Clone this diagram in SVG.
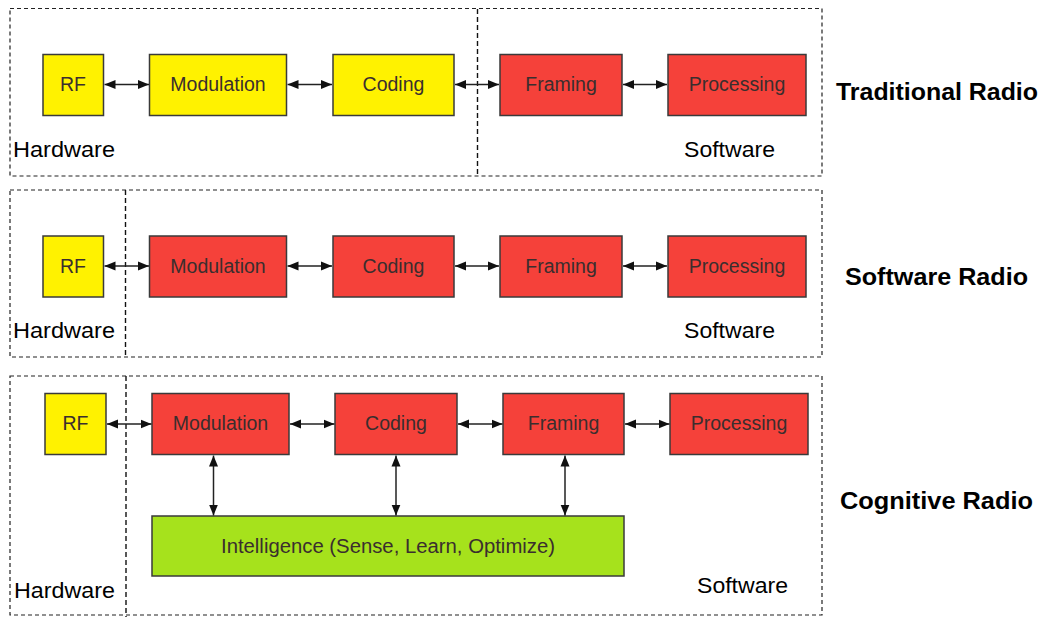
<svg xmlns="http://www.w3.org/2000/svg" width="1045" height="617" viewBox="0 0 1045 617">
<style>
.panel{fill:none;stroke:#222;stroke-width:1.2;stroke-dasharray:4 3}
.div{fill:none;stroke:#111;stroke-width:1.4;stroke-dasharray:5 3}
.box{stroke:#3a3a3a;stroke-width:1.5}
.y{fill:#FFF200}
.r{fill:#F5413A}
.g{fill:#A6E21C}
.bt{font-family:"Liberation Sans",Arial,sans-serif;font-size:19.5px;fill:#3a2e2e;text-anchor:middle}
.lab{font-family:"Liberation Sans",Arial,sans-serif;font-size:22.5px;fill:#000}
.title{font-family:"Liberation Sans",Arial,sans-serif;font-size:23px;font-weight:bold;fill:#000}
.con{stroke:#222;stroke-width:1.5;fill:none;marker-start:url(#ah);marker-end:url(#ah)}
</style>
<defs>
<marker id="ah" markerUnits="userSpaceOnUse" markerWidth="11" markerHeight="10" refX="11" refY="5" orient="auto-start-reverse">
<path d="M0,0.5 L11,5 L0,9.5 z" fill="#111"/>
</marker>
</defs>
<rect width="1045" height="617" fill="#fff"/>

<g id="panels">
<rect class="panel" x="10" y="8.5" width="812" height="167.5"/>
<line class="div" x1="477.5" y1="9" x2="477.5" y2="176"/>
<rect class="panel" x="10" y="190" width="812" height="167"/>
<line class="div" x1="125.5" y1="190" x2="125.5" y2="357"/>
<rect class="panel" x="10" y="376" width="812" height="239"/>
<line class="div" x1="126" y1="376" x2="126" y2="617"/>
</g>

<g id="labels">
<text class="lab" x="13" y="157" textLength="102" lengthAdjust="spacingAndGlyphs">Hardware</text>
<text class="lab" x="684" y="157" textLength="91" lengthAdjust="spacingAndGlyphs">Software</text>
<text class="title" x="836" y="100" textLength="202" lengthAdjust="spacingAndGlyphs">Traditional Radio</text>
<text class="lab" x="13" y="338" textLength="102" lengthAdjust="spacingAndGlyphs">Hardware</text>
<text class="lab" x="684" y="338" textLength="91" lengthAdjust="spacingAndGlyphs">Software</text>
<text class="title" x="845" y="285" textLength="183" lengthAdjust="spacingAndGlyphs">Software Radio</text>
<text class="lab" x="14" y="598" textLength="101" lengthAdjust="spacingAndGlyphs">Hardware</text>
<text class="lab" x="697" y="593" textLength="91" lengthAdjust="spacingAndGlyphs">Software</text>
<text class="title" x="840" y="509" textLength="193" lengthAdjust="spacingAndGlyphs">Cognitive Radio</text>
</g>

<g id="t-rf"><rect class="box y" x="43" y="54.5" width="60.5" height="61"/><text class="bt" x="73" y="91">RF</text></g>
<g id="t-mod"><rect class="box y" x="149.5" y="54.5" width="137" height="61"/><text class="bt" x="218" y="91">Modulation</text></g>
<g id="t-cod"><rect class="box y" x="333" y="54.5" width="121" height="61"/><text class="bt" x="393.5" y="91">Coding</text></g>
<g id="t-fra"><rect class="box r" x="500" y="54.5" width="122" height="61"/><text class="bt" x="561" y="91">Framing</text></g>
<g id="t-pro"><rect class="box r" x="668" y="54.5" width="138" height="61"/><text class="bt" x="737" y="91">Processing</text></g>

<g id="s-rf"><rect class="box y" x="43" y="236" width="60.5" height="61"/><text class="bt" x="73" y="273">RF</text></g>
<g id="s-mod"><rect class="box r" x="149.5" y="236" width="137" height="61"/><text class="bt" x="218" y="273">Modulation</text></g>
<g id="s-cod"><rect class="box r" x="333" y="236" width="121" height="61"/><text class="bt" x="393.5" y="273">Coding</text></g>
<g id="s-fra"><rect class="box r" x="500" y="236" width="122" height="61"/><text class="bt" x="561" y="273">Framing</text></g>
<g id="s-pro"><rect class="box r" x="668" y="236" width="138" height="61"/><text class="bt" x="737" y="273">Processing</text></g>

<g id="c-rf"><rect class="box y" x="45" y="393.5" width="61" height="61"/><text class="bt" x="75.5" y="430">RF</text></g>
<g id="c-mod"><rect class="box r" x="152" y="393.5" width="137" height="61"/><text class="bt" x="220.5" y="430">Modulation</text></g>
<g id="c-cod"><rect class="box r" x="335" y="393.5" width="122" height="61"/><text class="bt" x="396" y="430">Coding</text></g>
<g id="c-fra"><rect class="box r" x="503" y="393.5" width="121" height="61"/><text class="bt" x="563.5" y="430">Framing</text></g>
<g id="c-pro"><rect class="box r" x="670" y="393.5" width="138" height="61"/><text class="bt" x="739" y="430">Processing</text></g>
<g id="c-int"><rect class="box g" x="152" y="516" width="472" height="60"/><text class="bt" x="388" y="553" textLength="334" lengthAdjust="spacingAndGlyphs">Intelligence (Sense, Learn, Optimize)</text></g>

<g id="connectors">
<line class="con" x1="104.5" y1="84.5" x2="149" y2="84.5"/>
<line class="con" x1="287.5" y1="84.5" x2="332" y2="84.5"/>
<line class="con" x1="455" y1="84.5" x2="499" y2="84.5"/>
<line class="con" x1="623" y1="84.5" x2="667" y2="84.5"/>

<line class="con" x1="104.5" y1="266" x2="149" y2="266"/>
<line class="con" x1="287.5" y1="266" x2="332" y2="266"/>
<line class="con" x1="455" y1="266" x2="499" y2="266"/>
<line class="con" x1="623" y1="266" x2="667" y2="266"/>

<line class="con" x1="107" y1="424" x2="151.5" y2="424"/>
<line class="con" x1="290" y1="424" x2="334.5" y2="424"/>
<line class="con" x1="458" y1="424" x2="502.5" y2="424"/>
<line class="con" x1="625" y1="424" x2="669.5" y2="424"/>

<line class="con" x1="213.5" y1="455.5" x2="213.5" y2="515.5"/>
<line class="con" x1="396" y1="455.5" x2="396" y2="515.5"/>
<line class="con" x1="565" y1="455.5" x2="565" y2="515.5"/>
</g>
</svg>
